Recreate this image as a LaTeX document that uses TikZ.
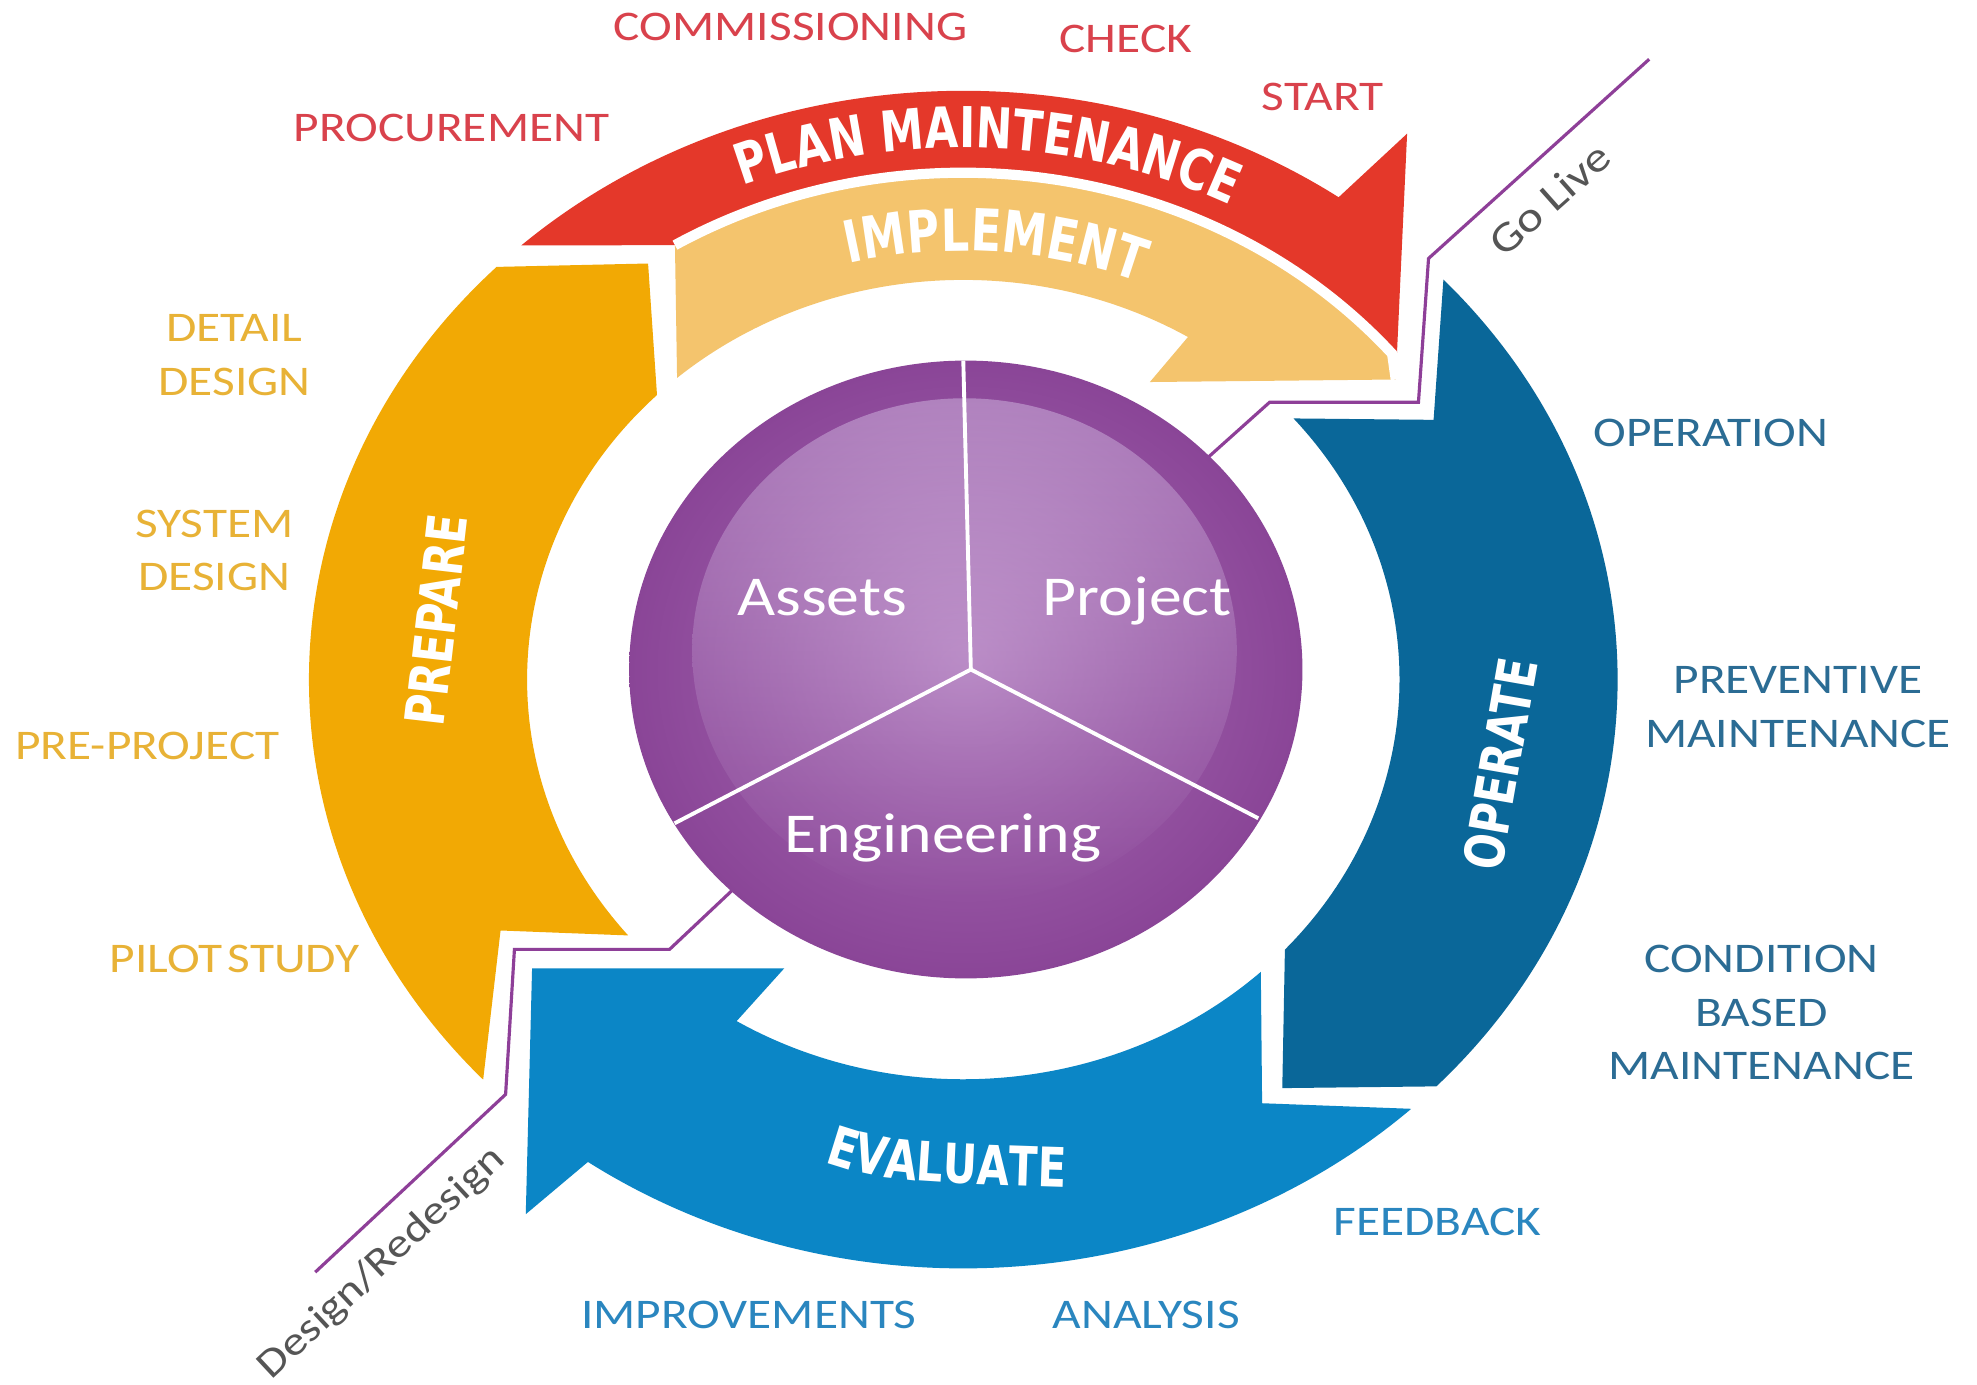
\documentclass[tikz,border=0pt]{standalone}
\usepackage{fontspec}
\usetikzlibrary{decorations.text,fadings}
\newfontfamily\lblfont{Carlito}[FakeStretch=1.17]
\newfontfamily\bandfont{DejaVu Sans}[FakeStretch=0.77]
\definecolor{cRed}{HTML}{E4382A}
\definecolor{cImp}{HTML}{F4C46D}
\definecolor{cPrep}{HTML}{F2A904}
\definecolor{cOp}{HTML}{0A6799}
\definecolor{cEval}{HTML}{0B86C6}
\definecolor{cPurp}{HTML}{8E3F98}
\definecolor{tRed}{HTML}{D9424C}
\definecolor{tGold}{HTML}{E8B236}
\definecolor{tOp}{HTML}{2B6C94}
\definecolor{tEval}{HTML}{2A86BF}
\definecolor{tGray}{HTML}{555555}
\definecolor{pDark}{HTML}{8A4597}
\definecolor{pMid}{HTML}{A86FB5}
\definecolor{pHi}{HTML}{CFAEDB}
\definecolor{pHiOut}{HTML}{B183BF}
\tikzset{
  lbl/.style={font=\lblfont\fontsize{12}{14}\selectfont, anchor=base, inner sep=0pt},
  redlbl/.style={lbl, text=tRed},
  goldlbl/.style={lbl, text=tGold},
  oplbl/.style={lbl, text=tOp},
  evlbl/.style={lbl, text=tEval},
  bandlbl/.style={font=\bandfont\bfseries\fontsize{15.5}{18}\selectfont, text=white, inner sep=0pt},
  circlbl/.style={font=\lblfont\fontsize{16}{19}\selectfont, text=white, anchor=base, inner sep=0pt},
  milestone/.style={font=\lblfont\fontsize{12}{14}\selectfont, text=tGray, inner sep=0pt},
  divider/.style={cPurp, line width=0.9pt},
  segline/.style={white, line width=1.1pt},
  gapline/.style={white, line width=2.9pt},
}
\newcommand{\bandtxt}[1]{\bandfont\bfseries\fontsize{#1}{18}\selectfont}
\begin{document}
\begin{tikzpicture}[x=0.01261cm,y=0.01261cm]
\path[use as bounding box, fill=white] (0,0) rectangle (1568,1098);

% purple Design/Redesign -- Go Live divider
\coordinate (dr0) at (250,89);
\coordinate (dr1) at (401,230);
\coordinate (dr2) at (408,345);
\coordinate (dr3) at (531,345);
\coordinate (dr4) at (600,410);
\coordinate (gl0) at (940,719);
\coordinate (gl1) at (1007,779);
\coordinate (gl2) at (1125,779);
\coordinate (gl3) at (1133,893);
\coordinate (gl4) at (1308,1051);
\draw[divider] (dr0) -- (dr1) -- (dr2) -- (dr3) -- (dr4);
\draw[divider] (gl0) -- (gl1) -- (gl2) -- (gl3) -- (gl4);

\begin{scope}[shift={(764,559)}]
  % PREPARE
  \fill[cPrep] (135.5:519 and 467) arc[start angle=135.5, end angle=222.8, x radius=519, y radius=467]
     -- (-367,-199) -- (219.8:346 and 317)
     arc[start angle=219.8, end angle=134.6, x radius=346, y radius=317]
     -- (-250,330) -- cycle;
  % PLAN MAINTENANCE
  \fill[cRed] (132.5:519 and 467) arc[start angle=132.5, end angle=55, x radius=519, y radius=467]
     -- (352,433) -- (343,238) -- (40:444 and 402)
     arc[start angle=40, end angle=121, x radius=444, y radius=402] -- cycle;
  % IMPLEMENT
  \fill[cImp] (121:444 and 402) -- (131:346 and 317)
     arc[start angle=131, end angle=59, x radius=346, y radius=317]
     -- (148,236) -- (343,238) -- (40:444 and 402)
     arc[start angle=40, end angle=121, x radius=444, y radius=402] -- cycle;
  \draw[gapline] (121:444 and 402) arc[start angle=121, end angle=40, x radius=444, y radius=402] -- (343,238);
  % OPERATE
  \fill[cOp] (42.8:519 and 467) arc[start angle=42.8, end angle=-43.7, x radius=519, y radius=467]
     -- (253,-324) -- (-42.5:346 and 317)
     arc[start angle=-42.5, end angle=40.8, x radius=346, y radius=317]
     -- (373,206) -- cycle;
  % EVALUATE
  \fill[cEval] (-46.8:519 and 467) arc[start angle=-46.8, end angle=-125, x radius=519, y radius=467]
     -- (-347,-424) -- (-342,-229) -- (-142,-229) -- (-121.3:346 and 317)
     arc[start angle=-121.3, end angle=-47, x radius=346, y radius=317]
     -- (237,-336) -- cycle;
  % curved band titles
  \path[decorate, decoration={text along path, text align=center, text color=white,
      text={|\bandtxt{16}|PLAN MAINTENANCE}}]
     (121:468 and 422) arc[start angle=121, end angle=54, x radius=468, y radius=422];
  \path[decorate, decoration={text along path, text align=center, text color=white,
      text={|\bandtxt{16.5}|IMPLEMENT}}]
     (116:375 and 340) arc[start angle=116, end angle=56, x radius=375, y radius=340];
\end{scope}

\path[decorate, decoration={text along path, text align=center, text color=white,
    text={|\bandtxt{15.5}|EVALUATE}}]
   (643,180) .. controls (700,161) .. (857,156);
\node[bandlbl, rotate=83.4] (prepare) at (346,606) {PREPARE};
\node[bandlbl, rotate=80.1] (operate) at (1190,492) {OPERATE};

% central circle
\coordinate (cc) at (766,567);
\coordinate (ctr) at (770,567);
\shade[inner color=pMid, outer color=pDark] (cc) ellipse[x radius=267, y radius=245];
\shade[inner color=pHi, outer color=pHiOut, path fading=south] (765,582) ellipse[x radius=216, y radius=200];
\coordinate (segT) at (764,812);
\coordinate (segL) at (535,445);
\coordinate (segR) at (998,449);
\draw[segline] (ctr) -- (segT);
\draw[segline] (ctr) -- (segL);
\draw[segline] (ctr) -- (segR);
\node[circlbl] (assets) at (652,610) {Assets};
\node[circlbl] (project) at (902,610) {Project};
\node[circlbl] (engineering) at (748,422) {Engineering};

% outer labels
\node[redlbl] (commissioning) at (627,1066) {COMMISSIONING};
\node[redlbl] (check) at (893,1056) {CHECK};
\node[redlbl] (start) at (1049,1010) {START};
\node[redlbl] (procurement) at (358,986) {PROCUREMENT};
\node[goldlbl] (detailA) at (186,827) {DETAIL};
\node[goldlbl] (detailB) at (186,784) {DESIGN};
\node[goldlbl] (systemA) at (170,672) {SYSTEM};
\node[goldlbl] (systemB) at (170,630) {DESIGN};
\node[goldlbl] (preproject) at (117,496) {PRE-PROJECT};
\node[goldlbl] (pilot) at (186,327) {PILOT\hspace{0.12em}STUDY};
\node[oplbl] (operation) at (1357,744) {OPERATION};
\node[oplbl] (prevA) at (1426,548) {PREVENTIVE};
\node[oplbl] (prevB) at (1426,505) {MAINTENANCE};
\node[oplbl] (condA) at (1397,327) {CONDITION};
\node[oplbl] (condB) at (1397,284) {BASED};
\node[oplbl] (condC) at (1397,242) {MAINTENANCE};
\node[evlbl] (feedback) at (1140,118) {FEEDBACK};
\node[evlbl] (improvements) at (594,44) {IMPROVEMENTS};
\node[evlbl] (analysis) at (909,44) {ANALYSIS};

% milestones
\node[milestone, rotate=41.6] (golive) at (1229,940) {Go Live};
\node[milestone, rotate=43, font=\lblfont\fontsize{11.5}{14}\selectfont] (redesign) at (303,96) {Design/Redesign};
\end{tikzpicture}
\end{document}
